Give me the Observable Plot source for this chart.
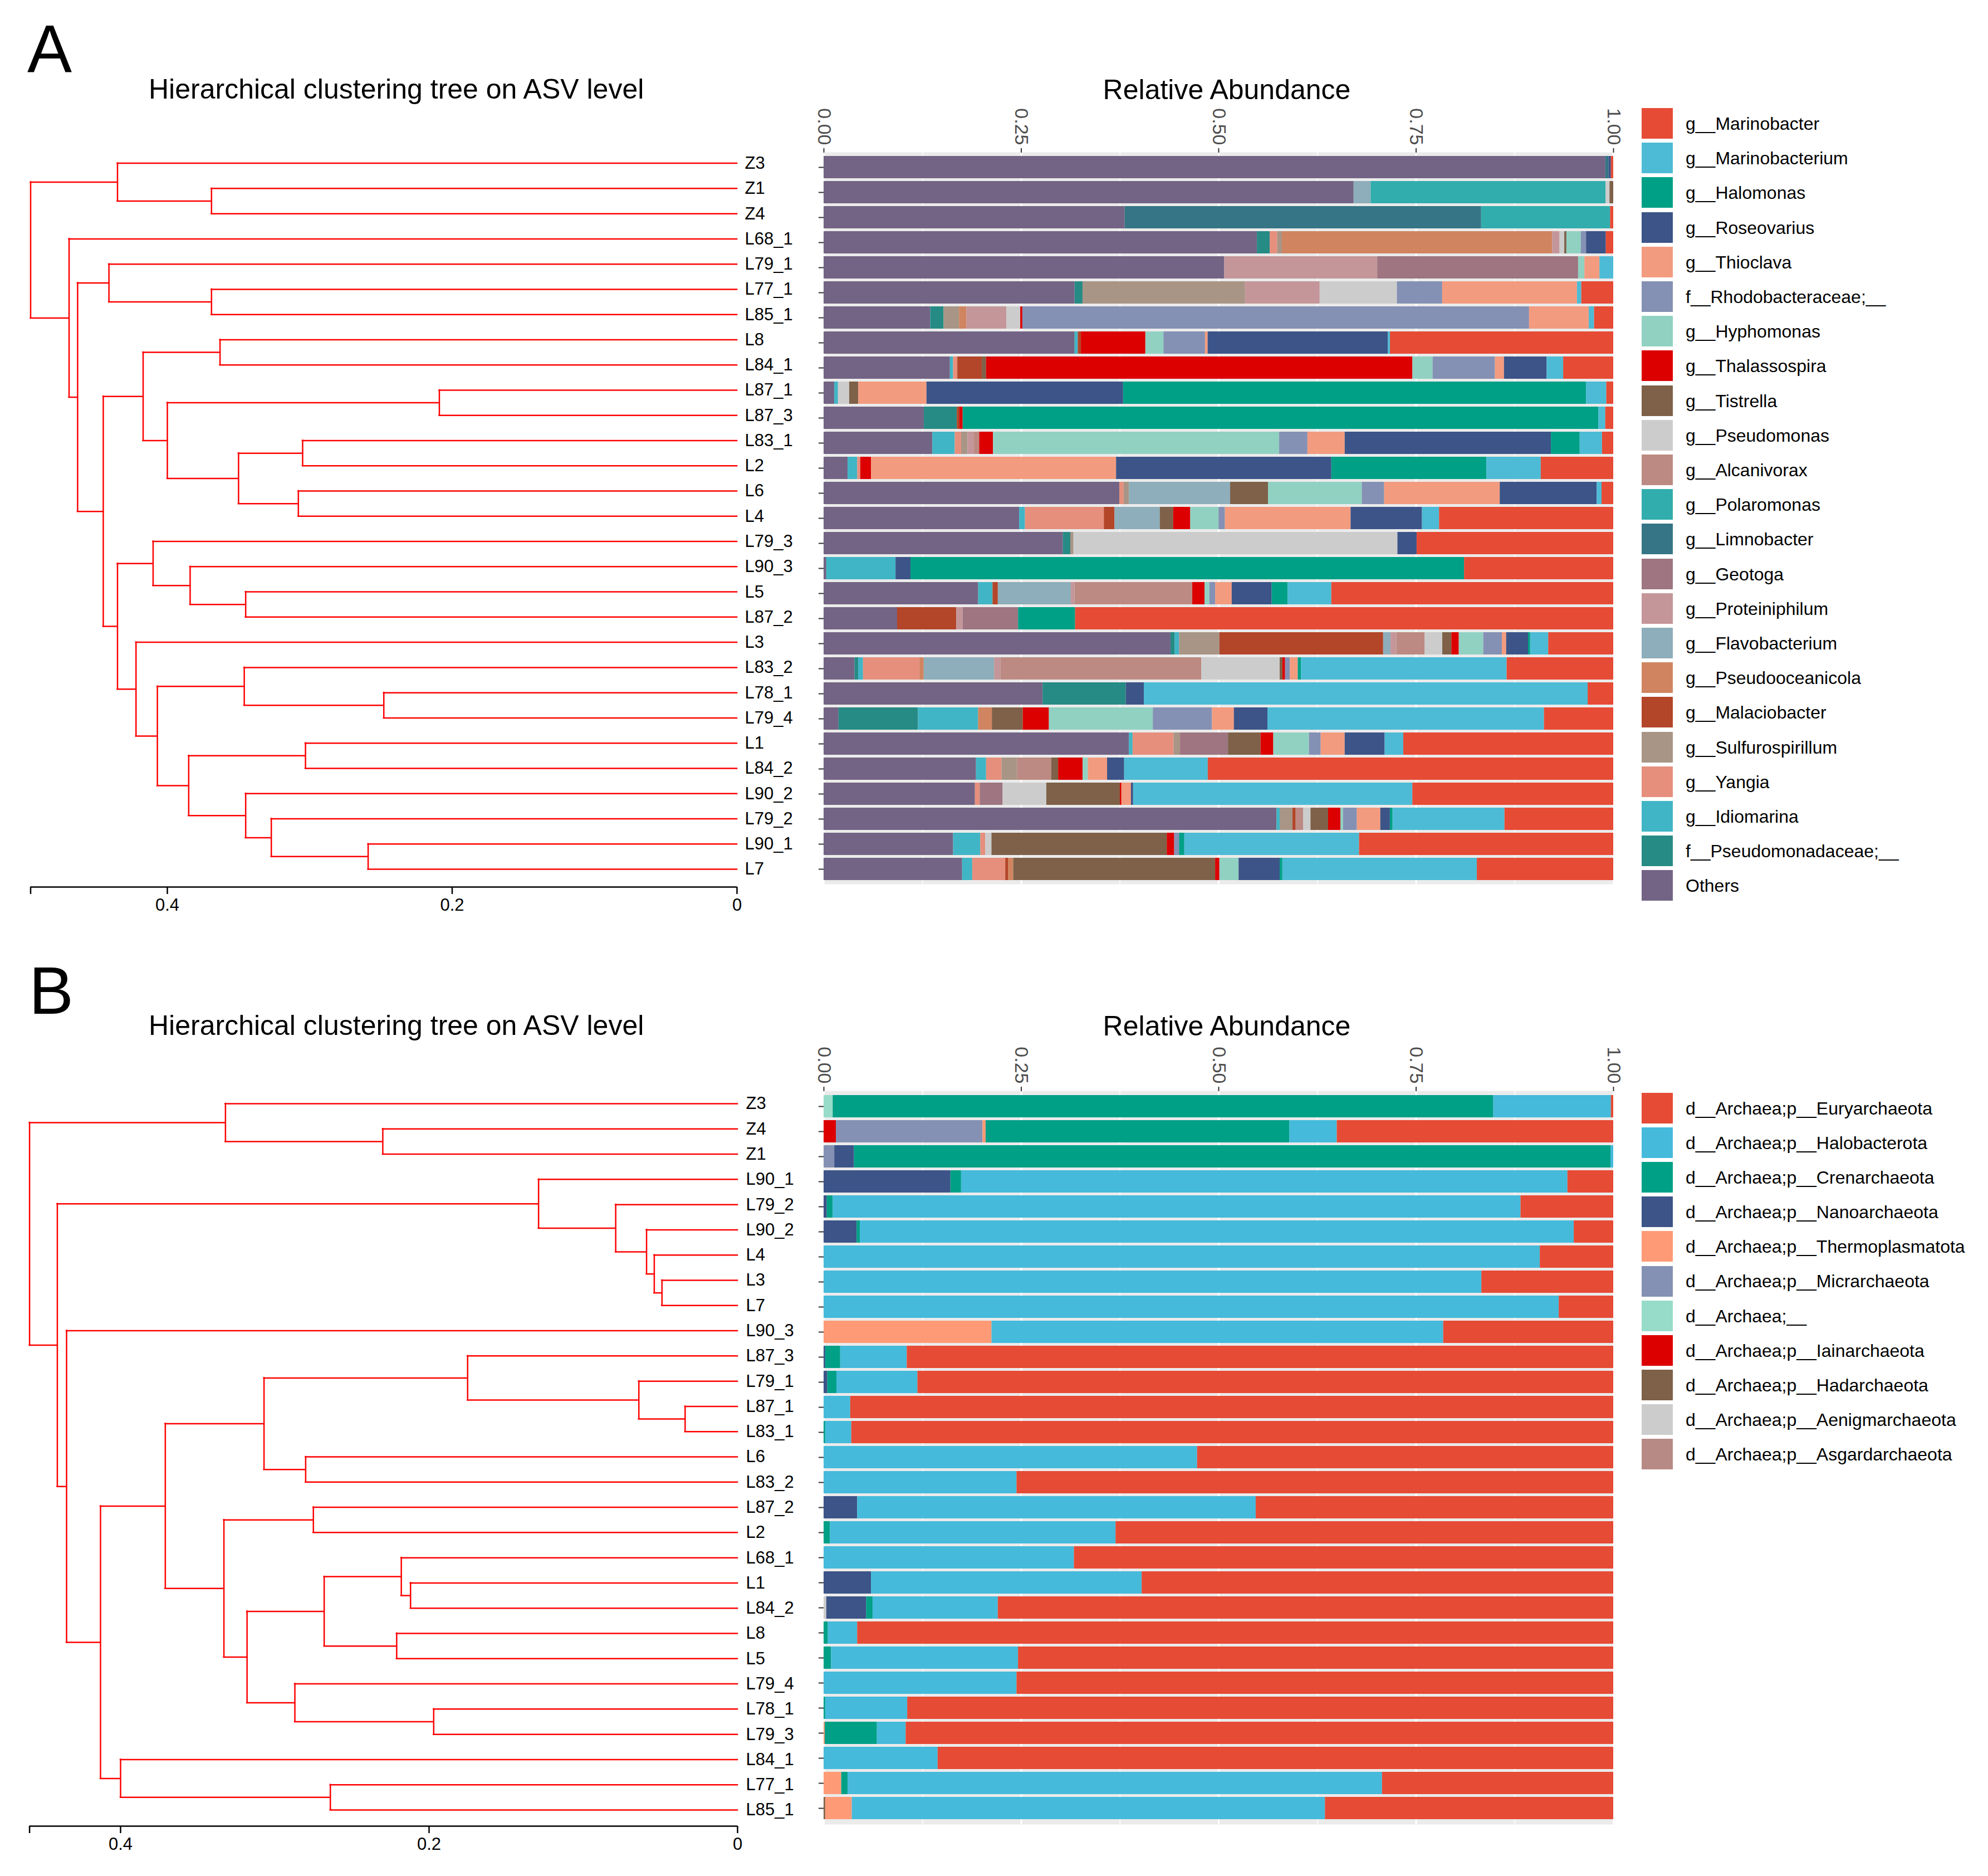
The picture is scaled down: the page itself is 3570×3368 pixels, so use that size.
<!DOCTYPE html>
<html>
<head>
<meta charset="utf-8">
<script src="https://cdn.jsdelivr.net/npm/d3@7"></script>
<script src="https://cdn.jsdelivr.net/npm/@observablehq/plot@0.6"></script>
<style>
  html, body { margin: 0; padding: 0; background: #fff; }
  body { width: 3570px; height: 3368px; position: relative; overflow: hidden;
         font-family: "Liberation Sans", Arial, sans-serif; color: #000; }
  .abs { position: absolute; line-height: 1; white-space: nowrap; }
  .sw { position: absolute; width: 56px; height: 55px; }
  svg { overflow: visible; }
</style>
</head>
<body>
<div id="root"></div>
<script>
// ---------------- Panel A data ----------------
const taxaA = ["g__Marinobacter","g__Marinobacterium","g__Halomonas","g__Roseovarius","g__Thioclava",
  "f__Rhodobacteraceae;__","g__Hyphomonas","g__Thalassospira","g__Tistrella","g__Pseudomonas",
  "g__Alcanivorax","g__Polaromonas","g__Limnobacter","g__Geotoga","g__Proteiniphilum",
  "g__Flavobacterium","g__Pseudooceanicola","g__Malaciobacter","g__Sulfurospirillum","g__Yangia",
  "g__Idiomarina","f__Pseudomonadaceae;__","Others"];
const codesA = ["Mb","Mbm","Hal","Ros","Thi","Rho","Hyp","Tha","Tis","Psm","Alc","Pol","Lim","Geo","Pro",
  "Fla","Pso","Mal","Sul","Yan","Idi","Psd","Oth"];
const colorsA = ["#E64B35","#4DBBD5","#00A087","#3C5488","#F39B7F","#8491B4","#91D1C2","#DC0000","#7E6148","#CCCCCC",
  "#BC8A82","#31ADAD","#357585","#9E7581","#C4969A","#8DAEBA","#D08560","#B34529","#A89586","#E68F7D",
  "#40B5C5","#268B85","#736485"];

const samplesA = ["Z3","Z1","Z4","L68_1","L79_1","L77_1","L85_1","L8","L84_1","L87_1","L87_3","L83_1","L2","L6","L4",
  "L79_3","L90_3","L5","L87_2","L3","L83_2","L78_1","L79_4","L1","L84_2","L90_2","L79_2","L90_1","L7"];

const A_Z3 = [["Oth",.990],["Lim",.004],["Ros",.003],["Mb",.003]];
const A_Z1 = [["Oth",.6714],["Fla",.0216],["Pol",.2976],["Psm",.005],["Tis",.0047]];
const A_Z4 = [["Oth",.3812],["Lim",.4514],["Pol",.1633],["Mb",.004]];
const A_L68_1 = [["Oth",.5486],["Psd",.0162],["Yan",.0094],["Sul",.006],["Pso",.3421],["Pro",.0094],["Psm",.006],["Tis",.0027],["Hyp",.0182],["Rho",.0067],["Ros",.025],["Mb",.0094]];
const A_L79_1 = [["Oth",.5074],["Pro",.1937],["Geo",.2544],["Hyp",.008],["Thi",.019],["Mbm",.0175]];
const A_L77_1 = [["Oth",.3178],["Psd",.0101],["Sul",.2058],["Pro",.0945],["Psm",.0978],["Rho",.0574],["Thi",.1707],["Mbm",.0054],["Mb",.0405]];
const A_L85_1 = [["Oth",.135],["Psd",.0169],["Sul",.0196],["Pso",.0094],["Pro",.0506],["Psm",.0175],["Tha",.0027],["Rho",.6417],["Thi",.0756],["Mbm",.0067],["Mb",.0243]];
const A_L8 = [["Oth",.3178],["Idi",.004],["Mal",.004],["Tha",.0816],["Hyp",.0229],["Rho",.0526],["Thi",.0034],["Ros",.2281],["Mbm",.0027],["Mb",.2827]];
const A_L84_1 = [["Oth",.1599],["Idi",.004],["Yan",.0054],["Mal",.031],["Tis",.0054],["Tha",.5398],["Hyp",.0256],["Rho",.0789],["Thi",.0115],["Ros",.054],["Mbm",.0209],["Mb",.0634]];
const A_L87_1 = [["Oth",.0135],["Idi",.0047],["Psm",.0142],["Tis",.0115],["Thi",.0864],["Ros",.249],["Hal",.5864],["Mbm",.0256],["Mb",.0088]];
const A_L87_3 = [["Oth",.1269],["Psd",.0418],["Mal",.0034],["Tha",.004],["Hal",.805],["Mbm",.0088],["Mb",.0101]];
const A_L83_1 = [["Oth",.1377],["Idi",.0283],["Yan",.0081],["Sul",.0081],["Pro",.0081],["Alc",.0067],["Tha",.0175],["Hyp",.3623],["Rho",.0358],["Thi",.0472],["Ros",.2611],["Hal",.0364],["Mbm",.0283],["Mb",.0142]];
const A_L2 = [["Oth",.0304],["Idi",.0121],["Yan",.004],["Tha",.0135],["Thi",.3104],["Ros",.2726],["Hal",.1964],["Mbm",.0688],["Mb",.0918]];
const A_L6 = [["Oth",.3745],["Yan",.0054],["Sul",.0067],["Fla",.1282],["Tis",.0479],["Hyp",.1188],["Rho",.0283],["Thi",.1464],["Ros",.1228],["Mbm",.0061],["Mb",.0148]];
const A_L4 = [["Oth",.2476],["Idi",.0074],["Yan",.0999],["Mal",.0135],["Fla",.0574],["Tis",.0169],["Tha",.0216],["Hyp",.0358],["Rho",.0081],["Thi",.1592],["Ros",.0904],["Mbm",.0216],["Mb",.2206]];
const A_L79_3 = [["Oth",.303],["Psd",.0094],["Sul",.004],["Psm",.4103],["Ros",.0243],["Mb",.249]];
const A_L90_3 = [["Oth",.0034],["Idi",.0877],["Ros",.0189],["Hal",.7011],["Mb",.1889]];
const A_L5 = [["Oth",.1957],["Idi",.0182],["Mal",.0067],["Fla",.0924],["Pro",.0047],["Alc",.1491],["Tha",.0155],["Hyp",.0061],["Rho",.0074],["Thi",.0209],["Ros",.0506],["Hal",.0202],["Mbm",.0553],["Mb",.357]];
const A_L87_2 = [["Oth",.0931],["Mal",.0749],["Pro",.0081],["Geo",.0702],["Hal",.0722],["Mb",.6815]];
const A_L3 = [["Oth",.4393],["Psd",.0054],["Idi",.0054],["Sul",.0513],["Mal",.2072],["Fla",.0094],["Pro",.0074],["Alc",.0358],["Psm",.0223],["Tis",.0115],["Tha",.0094],["Hyp",.031],["Rho",.0236],["Thi",.0054],["Ros",.0277],["Hal",.0027],["Mbm",.0229],["Mb",.0823]];
const A_L83_2 = [["Oth",.0391],["Psd",.0047],["Idi",.0061],["Yan",.0715],["Pso",.0054],["Fla",.0891],["Pro",.0081],["Alc",.2544],["Psm",.0992],["Tis",.0034],["Tha",.0034],["Rho",.006],["Thi",.0101],["Hal",.004],["Mbm",.2605],["Mb",.135]];
const A_L78_1 = [["Oth",.2773],["Psd",.1053],["Ros",.0229],["Mbm",.5621],["Mb",.0324]];
const A_L79_4 = [["Oth",.0189],["Psd",.1005],["Idi",.0762],["Pso",.0175],["Tis",.0391],["Tha",.0331],["Hyp",.1316],["Rho",.0749],["Thi",.0277],["Ros",.0425],["Mbm",.3502],["Mb",.0877]];
const A_L1 = [["Oth",.3866],["Idi",.0047],["Yan",.052],["Sul",.0081],["Geo",.0607],["Tis",.0412],["Tha",.0162],["Hyp",.0452],["Rho",.0148],["Thi",.0304],["Ros",.0506],["Mbm",.0236],["Mb",.2659]];
const A_L84_2 = [["Oth",.193],["Idi",.0128],["Yan",.0196],["Sul",.0196],["Alc",.0432],["Tis",.0088],["Tha",.031],["Hyp",.0067],["Thi",.0243],["Ros",.0216],["Mbm",.1059],["Mb",.5135]];
const A_L90_2 = [["Oth",.1916],["Yan",.0061],["Geo",.029],["Psm",.0553],["Tis",.0931],["Tha",.002],["Thi",.0121],["Ros",.0027],["Mbm",.3536],["Mb",.2544]];
const A_L79_2 = [["Oth",.5735],["Idi",.004],["Sul",.0162],["Mal",.004],["Alc",.0094],["Psm",.0094],["Tis",.0223],["Tha",.0155],["Hyp",.0034],["Rho",.0175],["Thi",.0297],["Ros",.0121],["Hal",.0034],["Mbm",.1417],["Mb",.1377]];
const A_L90_1 = [["Oth",.164],["Idi",.0344],["Yan",.0061],["Psm",.0081],["Tis",.222],["Tha",.0094],["Rho",.0061],["Hal",.0067],["Mbm",.2213],["Mb",.3219]];
const A_L7 = [["Oth",.1754],["Idi",.0128],["Yan",.0418],["Mal",.0034],["Pso",.0067],["Tis",.2557],["Tha",.0054],["Hyp",.0243],["Ros",.052],["Hal",.0034],["Mbm",.2463],["Mb",.1727]];

const seriesA = [A_Z3,A_Z1,A_Z4,A_L68_1,A_L79_1,A_L77_1,A_L85_1,A_L8,A_L84_1,A_L87_1,A_L87_3,A_L83_1,A_L2,A_L6,A_L4,
  A_L79_3,A_L90_3,A_L5,A_L87_2,A_L3,A_L83_2,A_L78_1,A_L79_4,A_L1,A_L84_2,A_L90_2,A_L79_2,A_L90_1,A_L7];

// clustering tree A: [height, left, right]
const treeA = [0.496,
  [0.435, "Z3", [0.369, "Z1", "Z4"]],
  [0.469, "L68_1",
    [0.463,
      [0.441, "L79_1", [0.369, "L77_1", "L85_1"]],
      [0.445,
        [0.417, [0.363, "L8", "L84_1"],
                [0.400, [0.209, "L87_1", "L87_3"],
                        [0.350, [0.305, "L83_1", "L2"], [0.308, "L6", "L4"]]]],
        [0.435,
          [0.410, "L79_3", [0.384, "L90_3", [0.345, "L5", "L87_2"]]],
          [0.422, "L3",
            [0.407, [0.346, "L83_2", [0.248, "L78_1", "L79_4"]],
                    [0.385, [0.303, "L1", "L84_2"],
                            [0.345, "L90_2", [0.327, "L79_2", [0.259, "L90_1", "L7"]]]]]]]]]]];

// ---------------- Panel B data ----------------
const taxaB = ["d__Archaea;p__Euryarchaeota","d__Archaea;p__Halobacterota","d__Archaea;p__Crenarchaeota",
  "d__Archaea;p__Nanoarchaeota","d__Archaea;p__Thermoplasmatota","d__Archaea;p__Micrarchaeota","d__Archaea;__",
  "d__Archaea;p__Iainarchaeota","d__Archaea;p__Hadarchaeota","d__Archaea;p__Aenigmarchaeota","d__Archaea;p__Asgardarchaeota"];
const codesB = ["Eur","Hlb","Cre","Nan","The","Mic","Arc","Iai","Had","Aen","Asg"];
const colorsB = ["#E64B35","#45BADB","#00A087","#3C5488","#FF9A76","#8491B4","#97DBC9","#DC0000","#7E6148","#CCCCCC","#B88A85"];

const samplesB = ["Z3","Z4","Z1","L90_1","L79_2","L90_2","L4","L3","L7","L90_3","L87_3","L79_1","L87_1","L83_1","L6",
  "L83_2","L87_2","L2","L68_1","L1","L84_2","L8","L5","L79_4","L78_1","L79_3","L84_1","L77_1","L85_1"];

const B_Z3 = [["Arc",.0115],["Cre",.837],["Hlb",.149],["Eur",.003]];
const B_Z4 = [["Iai",.0155],["Mic",.1856],["The",.004],["Cre",.3846],["Hlb",.060],["Eur",.350]];
const B_Z1 = [["Mic",.0135],["Nan",.025],["Cre",.958],["Hlb",.0035]];
const B_L90_1 = [["Nan",.1606],["Cre",.0135],["Hlb",.768],["Eur",.058]];
const B_L79_2 = [["Nan",.004],["Cre",.0074],["Hlb",.871],["Eur",.1174]];
const B_L90_2 = [["Nan",.0418],["Cre",.004],["Hlb",.904],["Eur",.050]];
const B_L4 = [["Hlb",.907],["Eur",.093]];
const B_L3 = [["Hlb",.833],["Eur",.167]];
const B_L7 = [["Hlb",.931],["Eur",.069]];
const B_L90_3 = [["The",.2126],["Hlb",.572],["Eur",.2153]];
const B_L87_3 = [["Nan",.002],["Cre",.019],["Hlb",.0843],["Eur",.8947]];
const B_L79_1 = [["Nan",.0047],["Cre",.0115],["Hlb",.1026],["Eur",.881]];
const B_L87_1 = [["Hlb",.0337],["Eur",.9663]];
const B_L83_1 = [["Cre",.002],["Hlb",.033],["Eur",.965]];
const B_L6 = [["Hlb",.473],["Eur",.527]];
const B_L83_2 = [["Hlb",.2443],["Eur",.7557]];
const B_L87_2 = [["Nan",.0425],["Hlb",.5047],["Eur",.4528]];
const B_L2 = [["Cre",.008],["Hlb",.3617],["Eur",.6303]];
const B_L68_1 = [["Hlb",.317],["Eur",.683]];
const B_L1 = [["Nan",.060],["Hlb",.3428],["Eur",.5972]];
const B_L84_2 = [["Aen",.0034],["Nan",.0506],["Cre",.008],["Hlb",.1586],["Eur",.7794]];
const B_L8 = [["Cre",.0054],["Hlb",.0371],["Eur",.9575]];
const B_L5 = [["Cre",.0094],["Hlb",.2368],["Eur",.7538]];
const B_L79_4 = [["Hlb",.2443],["Eur",.7557]];
const B_L78_1 = [["Cre",.002],["Hlb",.1039],["Eur",.8941]];
const B_L79_3 = [["The",.0014],["Cre",.0661],["Hlb",.0364],["Eur",.8961]];
const B_L84_1 = [["Hlb",.1444],["Eur",.8556]];
const B_L77_1 = [["The",.0223],["Cre",.0081],["Hlb",.6768],["Eur",.2928]];
const B_L85_1 = [["Had",.002],["The",.0337],["Hlb",.5992],["Eur",.3651]];

const seriesB = [B_Z3,B_Z4,B_Z1,B_L90_1,B_L79_2,B_L90_2,B_L4,B_L3,B_L7,B_L90_3,B_L87_3,B_L79_1,B_L87_1,B_L83_1,B_L6,
  B_L83_2,B_L87_2,B_L2,B_L68_1,B_L1,B_L84_2,B_L8,B_L5,B_L79_4,B_L78_1,B_L79_3,B_L84_1,B_L77_1,B_L85_1];

const treeB = [0.459,
  [0.332, "Z3", [0.230, "Z4", "Z1"]],
  [0.441,
    [0.129, "L90_1", [0.079, "L79_2", [0.059, "L90_2", [0.054, "L4", [0.049, "L3", "L7"]]]]],
    [0.435, "L90_3",
      [0.413,
        [0.371,
          [0.307, [0.175, "L87_3", [0.064, "L79_1", [0.034, "L87_1", "L83_1"]]], [0.280, "L6", "L83_2"]],
          [0.333, [0.275, "L87_2", "L2"],
                  [0.318, [0.268, [0.218, "L68_1", [0.212, "L1", "L84_2"]], [0.221, "L8", "L5"]],
                          [0.287, "L79_4", [0.197, "L78_1", "L79_3"]]]]],
        [0.400, "L84_1", [0.264, "L77_1", "L85_1"]]]]]];

const barTicks = [0, 0.25, 0.5, 0.75, 1];
const treeTicks = [0.4, 0.2, 0];

// ---------------- drawing ----------------
const FONT = "'Liberation Sans', Arial, Helvetica, sans-serif";
const root = document.getElementById("root");

function place(el, left, top) {
  el.style.position = "absolute";
  el.style.left = left + "px";
  el.style.top = top + "px";
  root.appendChild(el);
}
function text(str, left, baseline, size, opts = {}) {
  const d = document.createElement("div");
  d.className = "abs";
  d.textContent = str;
  d.style.fontSize = size + "px";
  d.style.left = left + "px";
  d.style.top = (baseline - 0.8465 * size) + "px";
  if (opts.center) d.style.transform = "translateX(-50%)";
  if (opts.color) d.style.color = opts.color;
  root.appendChild(d);
}

function dendro(tree, samples, o) {
  const H = [], V = [];
  function walk(node) {
    if (typeof node === "string") return {y: samples.indexOf(node), h: 0};
    const [h, a, b] = node;
    const A = walk(a), B = walk(b);
    H.push({y: A.y, x1: h, x2: A.h}, {y: B.y, x1: h, x2: B.h});
    V.push({x: h, y1: A.y, y2: B.y});
    return {y: (A.y + B.y) / 2, h};
  }
  walk(tree);
  const n = samples.length;
  const top = tree[0];
  return Plot.plot({
    width: 1480, height: o.height,
    marginLeft: o.ml, marginRight: 1480 - o.x0, marginTop: o.mt, marginBottom: o.mb,
    insetBottom: o.ib,
    x: {domain: [top, 0], label: null},
    y: {domain: [n - 1, 0], axis: null, label: null},
    style: {fontFamily: FONT, background: "transparent", overflow: "visible"},
    marks: [
      Plot.ruleY(H, {y: "y", x1: "x1", x2: "x2", stroke: "#FF0000", strokeWidth: 2.5, strokeLinecap: "square"}),
      Plot.ruleX(V, {x: "x", y1: "y1", y2: "y2", stroke: "#FF0000", strokeWidth: 2.5, strokeLinecap: "square"}),
      Plot.text(samples, {x: 0, y: (d, i) => i, text: d => d, dx: o.dx, textAnchor: "start",
        lineAnchor: "middle", fontSize: 31, fill: "#000"}),
      Plot.ruleY([n - 1], {x1: top, x2: 0, dy: o.ib, stroke: "#000", strokeWidth: 2.5}),
      Plot.axisX({anchor: "bottom", ticks: [top, ...treeTicks], label: null,
        tickFormat: d => d === top ? "" : (d === 0 ? "0" : d.toFixed(1)),
        tickSize: 13, tickPadding: 7, fontSize: 31, color: "#000", strokeWidth: 2.5})
    ]
  });
}

function bars(samples, series, taxa, codes, colors, o) {
  const rows = [];
  samples.forEach((s, i) => {
    series[i]
      .map(([c, v]) => ({sample: s, k: codes.indexOf(c), value: v}))
      .sort((a, b) => b.k - a.k)
      .forEach(r => rows.push({sample: r.sample, taxon: taxa[r.k], value: r.value}));
  });
  return Plot.plot({
    width: 1520, height: o.height,
    marginLeft: 79, marginRight: 23, marginTop: o.mt, marginBottom: o.mb,
    x: {domain: [0, 1], label: null},
    y: {domain: samples, paddingInner: 0.11, paddingOuter: o.po, label: null},
    color: {domain: taxa, range: colors},
    style: {fontFamily: FONT, background: "transparent", overflow: "visible"},
    marks: [
      Plot.frame({fill: "#EBEBEB", stroke: "none"}),
      Plot.ruleX([0.125, 0.375, 0.625, 0.875], {stroke: "#fff", strokeWidth: 1.5}),
      Plot.ruleX(barTicks, {stroke: "#fff", strokeWidth: 3}),
      Plot.barX(rows, Plot.stackX({x: "value", y: "sample", fill: "taxon", offset: "normalize", order: null})),
      Plot.axisX({anchor: "top", ticks: barTicks, tickSize: 8, tickFormat: () => "", label: null,
        stroke: "#333", strokeWidth: 2}),
      Plot.text(barTicks, {x: d => d, frameAnchor: "top", dy: -13, rotate: 90, textAnchor: "end",
        lineAnchor: "middle", text: d => d.toFixed(2), fontSize: 34, fill: "#4D4D4D"}),
      Plot.axisY({anchor: "left", tickSize: 9, tickFormat: () => "", label: null,
        stroke: "#333", strokeWidth: 2})
    ]
  });
}

function legend(taxa, colors, y0, step) {
  taxa.forEach((t, i) => {
    const c = y0 + i * step;
    const sw = document.createElement("div");
    sw.className = "sw";
    sw.style.background = colors[i];
    place(sw, 2948, c - 27.5);
    text(t, 3027, c + 11.5, 32);
  });
}

// Panel A
text("A", 49, 129, 120);
text("Hierarchical clustering tree on ASV level", 267, 177, 50);
text("Relative Abundance", 2203, 178, 50, {center: true});
place(dendro(treeA, samplesA, {height: 1680, ml: 54.5, x0: 1323, mt: 292.6, mb: 88, ib: 32, dx: 14}), 0, 0);
place(bars(samplesA, seriesA, taxaA, codesA, colorsA, {height: 1620, mt: 273, mb: 33, po: 0.155}), 1400, 0);
legend(taxaA, colorsA, 221.5, 62.2);

// Panel B
text("B", 52, 1820, 120);
text("Hierarchical clustering tree on ASV level", 267, 1858, 50);
text("Relative Abundance", 2203, 1859, 50, {center: true});
place(dendro(treeB, samplesB, {height: 1688, ml: 52.6, x0: 1324, mt: 301, mb: 90, ib: 29, dx: 15}), 0, 1680);
place(bars(samplesB, seriesB, taxaB, codesB, colorsB, {height: 1620, mt: 278, mb: 25, po: 0.105}), 1400, 1680);
legend(taxaB, colorsB, 1989.5, 62.1);
</script>
</body>
</html>
